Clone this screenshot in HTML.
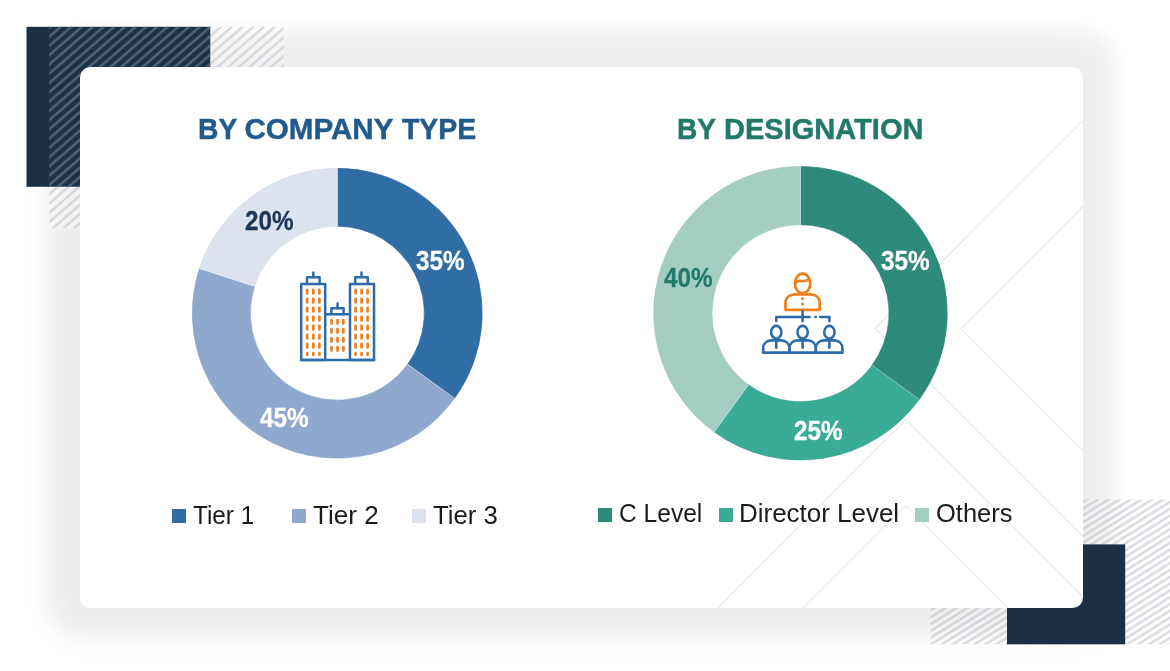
<!DOCTYPE html>
<html lang="en">
<head>
<meta charset="utf-8">
<title>Breakdown of primaries</title>
<style>
  html, body { margin: 0; padding: 0; background: #ffffff; }
  body { width: 1170px; height: 671px; overflow: hidden; position: relative;
         font-family: "Liberation Sans", sans-serif; }
  #stage { position: absolute; left: 0; top: 0; width: 1170px; height: 671px; overflow: hidden; background: #fff; }
  .shadow { position: absolute; left: 80.1px; top: 66.9px; width: 1003px; height: 541.6px; border-radius: 10.5px;
            box-shadow: 0 -6px 16px 33px rgba(0,0,0,0.044), -4px 5px 34px 30px rgba(0,0,0,0.033); background: #fff; }
  .card { position: absolute; left: 80.1px; top: 66.9px; width: 1003px; height: 541.6px; border-radius: 10.5px;
          background: #ffffff; overflow: hidden; }
  svg { position: absolute; left: 0; top: 0; }
  .t { position: absolute; white-space: nowrap; line-height: 1; transform-origin: 0 0; }
  .title { font-weight: bold; font-size: 29.6px; -webkit-text-stroke: 0.45px currentColor; }
  .title span { position: absolute; top: 0; display: block; transform-origin: 0 0; }
  .pct { font-weight: bold; font-size: 24.8px; transform: scale(0.98, 1.15); margin-top: -0.6px; -webkit-text-stroke: 0.25px currentColor; }
  .lg { font-size: 26.2px; color: #1c1c1c; }
  .sq { position: absolute; width: 14.2px; height: 14.2px; }
</style>
</head>
<body>
<div id="stage">
  <div class="shadow"></div>

  <!-- decorative corner blocks + hatching (behind card) -->
  <svg width="1170" height="671" viewBox="0 0 1170 671">
    <defs>
      <pattern id="hatchA" patternUnits="userSpaceOnUse" width="10.7" height="9.27" patternTransform="translate(221.1 26.8)">
        <path d="M-10.7 18.54 L21.4 -9.27 M-10.7 9.27 L10.7 -9.27 M0 18.54 L21.4 0" stroke="#b4b8c4" stroke-opacity="0.5" stroke-width="2.3" fill="none"/>
      </pattern>
      <pattern id="hatchAd" patternUnits="userSpaceOnUse" width="10.7" height="9.27" patternTransform="translate(221.1 26.8)">
        <path d="M-10.7 18.54 L21.4 -9.27 M-10.7 9.27 L10.7 -9.27 M0 18.54 L21.4 0" stroke="#5a6c83" stroke-opacity="0.85" stroke-width="2.5" fill="none"/>
      </pattern>
      <pattern id="hatchB" patternUnits="userSpaceOnUse" width="10.9" height="6.8" patternTransform="translate(1086.8 499.5)">
        <path d="M-10.9 13.6 L21.8 -6.8 M-10.9 6.8 L10.9 -6.8 M0 13.6 L21.8 0" stroke="#b6b8c3" stroke-opacity="0.52" stroke-width="2.4" fill="none"/>
      </pattern>
    </defs>
    <!-- top-left -->
    <rect x="26.5" y="26.8" width="183.8" height="160" fill="#1c2f44"/>
    <path d="M210.3 26.8 H283.7 V228 H49.2 V186.8 H210.3 Z" fill="#ffffff" fill-opacity="0.3"/>
    <rect x="210.3" y="26.8" width="73.4" height="160" fill="url(#hatchA)"/>
    <rect x="49.2" y="186.8" width="234.5" height="41.2" fill="url(#hatchA)"/>
    <rect x="49.2" y="26.8" width="161.1" height="160" fill="url(#hatchAd)"/>
    <!-- bottom-right -->
    <rect x="930.6" y="499.5" width="239.4" height="144.7" fill="#ffffff" fill-opacity="0.2"/>
    <rect x="930.6" y="499.5" width="239.4" height="144.7" fill="url(#hatchB)"/>
    <rect x="1007" y="544.4" width="118.2" height="99.9" fill="#1c2f44"/>
  </svg>

  <div class="card"></div>

  <!-- charts -->
  <svg id="charts" width="1170" height="671" viewBox="0 0 1170 671">
    <!-- faint chevron lines inside the card -->
    <g fill="none" stroke="#000" stroke-opacity="0.085" stroke-width="1.1">
      <path d="M1083 120.5 L875 328.5 L1083 536.5"/>
      <path d="M1083 206.5 L961 328.5 L1083 450.5"/>
      <path d="M717.7 608 L906 419.7 L1083 596.7"/>
      <path d="M803 608 L905.5 505.5 L1008 608"/>
    </g>
    <!-- donut: by company type -->
    <path d="M337.30 168.30 A144.9 144.9 0 0 1 454.53 398.37 L407.68 364.34 A87.0 87.0 0 0 0 337.30 226.20 Z" fill="#306da5" stroke="#2a609a" stroke-width="0.6"/>
    <path d="M454.53 398.37 A144.9 144.9 0 0 1 199.49 268.42 L254.56 286.32 A87.0 87.0 0 0 0 407.68 364.34 Z" fill="#8fa8ce" stroke="#7f9ac4" stroke-width="0.6"/>
    <path d="M199.49 268.42 A144.9 144.9 0 0 1 337.30 168.30 L337.30 226.20 A87.0 87.0 0 0 0 254.56 286.32 Z" fill="#dce3ee" stroke="#d3dbe8" stroke-width="0.6"/>
    <!-- donut: by designation -->
    <path d="M800.50 166.40 A146.8 146.8 0 0 1 919.26 399.49 L872.10 365.22 A88.5 88.5 0 0 0 800.50 224.70 Z" fill="#2e8b79" stroke="#27806e" stroke-width="0.6"/>
    <path d="M919.26 399.49 A146.8 146.8 0 0 1 714.21 431.96 L748.48 384.80 A88.5 88.5 0 0 0 872.10 365.22 Z" fill="#3aab95" stroke="#33a08a" stroke-width="0.6"/>
    <path d="M714.21 431.96 A146.8 146.8 0 0 1 800.50 166.40 L800.50 224.70 A88.5 88.5 0 0 0 748.48 384.80 Z" fill="#a4cec2" stroke="#9ac6b9" stroke-width="0.6"/>
    <path d="M337.30 226.20 L337.30 168.30 M407.68 364.34 L454.53 398.37 M254.56 286.32 L199.49 268.42" fill="none" stroke="#ffffff" stroke-opacity="0.55" stroke-width="0.9"/>
    <path d="M800.50 224.70 L800.50 166.40 M872.10 365.22 L919.26 399.49 M748.48 384.80 L714.21 431.96" fill="none" stroke="#ffffff" stroke-opacity="0.4" stroke-width="0.9"/>
    <!-- chevron line faintly over the green ring -->
    <path d="M966 237.5 L875 328.5 L936 389.5" fill="none" stroke="#000" stroke-opacity="0.05" stroke-width="1"/>

    <!-- buildings icon -->
    <g fill="none" stroke="#2d6cab" stroke-width="2.5" stroke-linejoin="round" stroke-linecap="round">
      <rect x="301.2" y="284" width="24" height="76"/>
      <rect x="350" y="284" width="24" height="76"/>
      <path d="M326.4 314.3 H348.8"/>
      <path d="M301 360 H374.2"/>
      <path d="M307 284 V277.2 H319.6 V284"/>
      <path d="M313.3 277.2 V272.6"/>
      <path d="M355.2 284 V277.2 H367.8 V284"/>
      <path d="M361.5 277.2 V272.6"/>
      <path d="M331.4 314.3 V308.3 H343.6 V314.3"/>
      <path d="M337.5 308.3 V303.4"/>
    </g>
    <g fill="none" stroke="#ee7f1d" stroke-width="2.7" stroke-linecap="round">
      <path d="M307.2 289.8 V293.4 M307.2 298.8 V302.4 M307.2 307.8 V311.4 M307.2 316.8 V320.4 M307.2 325.8 V329.4 M307.2 334.8 V338.4 M307.2 343.8 V347.4 M307.2 353.2 V354.8"/>
      <path d="M313.3 289.8 V293.4 M313.3 298.8 V302.4 M313.3 307.8 V311.4 M313.3 316.8 V320.4 M313.3 325.8 V329.4 M313.3 334.8 V338.4 M313.3 343.8 V347.4 M313.3 353.2 V354.8"/>
      <path d="M319.4 289.8 V293.4 M319.4 298.8 V302.4 M319.4 307.8 V311.4 M319.4 316.8 V320.4 M319.4 325.8 V329.4 M319.4 334.8 V338.4 M319.4 343.8 V347.4 M319.4 353.2 V354.8"/>
      <path d="M355.6 289.8 V293.4 M355.6 298.8 V302.4 M355.6 307.8 V311.4 M355.6 316.8 V320.4 M355.6 325.8 V329.4 M355.6 334.8 V338.4 M355.6 343.8 V347.4 M355.6 353.2 V354.8"/>
      <path d="M361.6 289.8 V293.4 M361.6 298.8 V302.4 M361.6 307.8 V311.4 M361.6 316.8 V320.4 M361.6 325.8 V329.4 M361.6 334.8 V338.4 M361.6 343.8 V347.4 M361.6 353.2 V354.8"/>
      <path d="M367.6 289.8 V293.4 M367.6 298.8 V302.4 M367.6 307.8 V311.4 M367.6 316.8 V320.4 M367.6 325.8 V329.4 M367.6 334.8 V338.4 M367.6 343.8 V347.4 M367.6 353.2 V354.8"/>
      <path d="M331.5 320 V323.6 M331.5 329 V332.6 M331.5 338 V341.6 M331.5 347 V350.6"/>
      <path d="M337.5 320 V323.6 M337.5 329 V332.6 M337.5 338 V341.6 M337.5 347 V350.6"/>
      <path d="M343.4 320 V323.6 M343.4 329 V332.6 M343.4 338 V341.6 M343.4 347 V350.6"/>
    </g>

    <!-- hierarchy / people icon -->
    <g fill="none" stroke="#ee7f1d" stroke-width="2.7" stroke-linecap="round" stroke-linejoin="round">
      <ellipse cx="802.6" cy="283.4" rx="7.7" ry="9.7"/>
      <path d="M796 282.6 C798.6 278.4 801.6 283.6 808.4 279.6"/>
      <path d="M785.5 309.8 V302.6 C785.5 297.6 789.2 294.6 795.2 294.4 H810 C816 294.6 819.7 297.6 819.7 302.6 V309.8 Z"/>
    </g>
    <circle cx="802.6" cy="298.6" r="1.5" fill="#ee7f1d"/>
    <circle cx="802.6" cy="304.1" r="1.5" fill="#ee7f1d"/>
    <g fill="none" stroke="#2d6cab" stroke-width="2.6" stroke-linecap="round" stroke-linejoin="round">
      <path d="M802.6 311 V321"/>
      <path d="M776.3 321 V317 H809.6"/>
      <path d="M815.4 317 H815.8"/>
      <path d="M820.2 317 H829.4 V321"/>
      <ellipse cx="776.3" cy="332.2" rx="5.2" ry="6.3"/>
      <ellipse cx="802.6" cy="332.2" rx="5.2" ry="6.3"/>
      <ellipse cx="829.4" cy="332.2" rx="5.2" ry="6.3"/>
      <path d="M763.2 352.6 V348.4 C763.2 343.4 766.6 340.6 771.4 340.4 H781.2 C786 340.6 789.4 343.4 789.4 348.4 V352.6"/>
      <path d="M789.4 352.6 V348.4 C789.4 343.4 792.8 340.6 797.6 340.4 H807.6 C812.4 340.6 815.8 343.4 815.8 348.4 V352.6"/>
      <path d="M815.8 352.6 V348.4 C815.8 343.4 819.2 340.6 824 340.4 H834.2 C839 340.6 842.4 343.4 842.4 348.4 V352.6"/>
      <path d="M763.2 352.6 H842.4"/>
      <path d="M776.3 340.6 V347.8 M802.6 340.6 V347.8 M829.4 340.6 V347.8"/>
    </g>
  </svg>

  <!-- titles -->
  <div class="t title" id="t1" style="left:0; top:114.2px; color:#235a8c;"><span style="left:198.3px; transform:scaleX(0.955);">BY</span> <span style="left:244.4px;">COMPANY</span> <span style="left:401.6px; transform:scaleX(0.96);">TYPE</span></div>
  <div class="t title" id="t2" style="left:0; top:114.2px; color:#22796a;"><span style="left:677.2px; transform:scaleX(0.95);">BY</span> <span style="left:723.6px; transform:scaleX(0.981);">DESIGNATION</span></div>

  <!-- percentage labels -->
  <div class="t pct" id="p20" style="left:244.5px; top:207.15px; color:#1c3557;">20%</div>
  <div class="t pct" id="p35a" style="left:416.4px; top:247.85px; color:#ffffff;">35%</div>
  <div class="t pct" id="p45" style="left:259.5px; top:404.15px; color:#ffffff;">45%</div>
  <div class="t pct" id="p40" style="left:664.2px; top:264.35px; color:#22796a;">40%</div>
  <div class="t pct" id="p35b" style="left:881px; top:247.35px; color:#ffffff;">35%</div>
  <div class="t pct" id="p25" style="left:794.3px; top:417.15px; color:#ffffff;">25%</div>

  <!-- legends -->
  <div class="sq" style="left:171.7px; top:508.8px; background:#306da5;"></div>
  <div class="t lg" id="l1" style="left:193.1px; top:501.9px; transform:scaleX(0.927);">Tier 1</div>
  <div class="sq" style="left:291.9px; top:508.8px; background:#8fa8ce;"></div>
  <div class="t lg" id="l2" style="left:313px; top:501.9px; transform:scaleX(0.995);">Tier 2</div>
  <div class="sq" style="left:411.9px; top:508.8px; background:#dce3ee;"></div>
  <div class="t lg" id="l3" style="left:433.3px; top:501.9px; transform:scaleX(0.983);">Tier 3</div>

  <div class="sq" style="left:597.7px; top:507.7px; background:#2e8b79;"></div>
  <div class="t lg" id="l4" style="left:619.4px; top:500.2px; transform:scaleX(0.938);">C Level</div>
  <div class="sq" style="left:718.5px; top:507.7px; background:#3aab95;"></div>
  <div class="t lg" id="l5" style="left:739.4px; top:500.2px; transform:scaleX(0.991);">Director Level</div>
  <div class="sq" style="left:915px; top:507.7px; background:#a4cec2;"></div>
  <div class="t lg" id="l6" style="left:935.9px; top:500.2px; transform:scaleX(0.973);">Others</div>
</div>
</body>
</html>
